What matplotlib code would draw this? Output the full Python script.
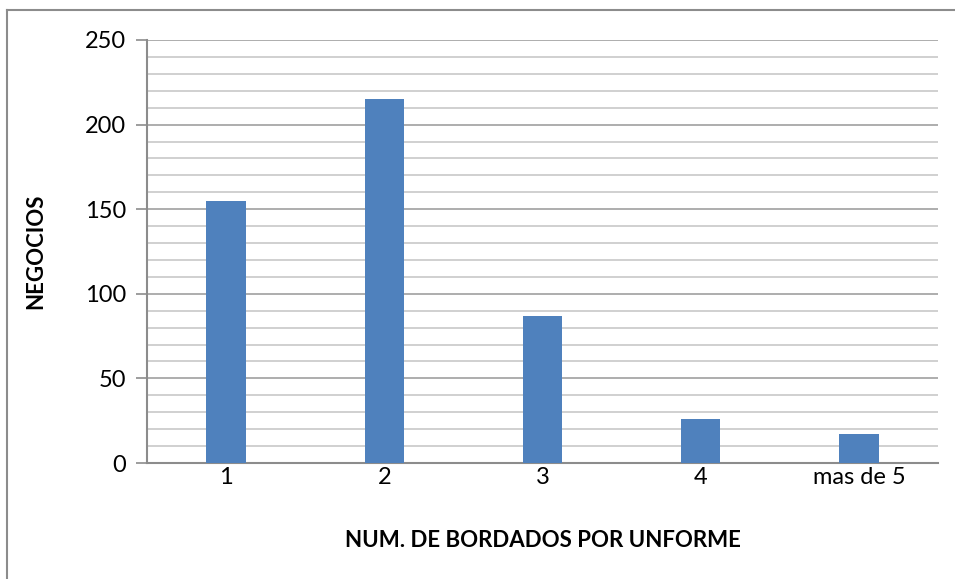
import matplotlib
matplotlib.use("Agg")
import matplotlib.pyplot as plt
from matplotlib.lines import Line2D
from matplotlib.ticker import MultipleLocator

categories = ["1", "2", "3", "4", "mas de 5"]
negocios = [155, 215, 87, 26, 17]
y_ticks = [0, 50, 100, 150, 200, 250]

plt.rcParams['font.family'] = ['Lato', 'DejaVu Sans']

W, H = 955, 579
fig = plt.figure(figsize=(W / 100, H / 100), dpi=100)
ax = fig.add_axes([147 / W, (H - 463) / H, (938 - 147) / W, (463 - 40) / H])

x = list(range(len(categories)))
ax.bar(x, negocios, width=0.25, color="#4f81bd", zorder=3)
ax.set_xlim(-0.5, len(categories) - 0.5)
ax.set_ylim(0, 250)
ax.set_yticks(y_ticks)
ax.yaxis.set_minor_locator(MultipleLocator(10))
ax.set_xticks(x)
ax.set_xticklabels(categories)

ax.grid(axis='y', which='major', color="#a0a0a0", linewidth=1.2, zorder=0)
ax.grid(axis='y', which='minor', color="#c8c8c8", linewidth=1.2, zorder=0)
ax.set_axisbelow(True)

for s in ['top', 'right']:
    ax.spines[s].set_visible(False)
for s in ['left', 'bottom']:
    ax.spines[s].set_color("#8c8c8c")
    ax.spines[s].set_linewidth(1.5)

ax.tick_params(axis='y', which='major', length=8, width=1.2, color="#8c8c8c",
               labelsize=17, pad=7)
ax.tick_params(axis='y', which='minor', length=0)
ax.tick_params(axis='x', length=0, labelsize=17, pad=3)

ax.set_xlabel("NUM. DE BORDADOS POR UNFORME", fontsize=16, fontweight='bold', labelpad=30)
ax.set_ylabel("NEGOCIOS", fontsize=16, fontweight='bold', labelpad=28)

# outer chart border (top and left visible)
fig.add_artist(Line2D([7 / W, 7 / W], [0, (H - 10) / H], transform=fig.transFigure,
                      color="#8c8c8c", linewidth=1.5))
fig.add_artist(Line2D([7 / W, 1], [(H - 10) / H, (H - 10) / H], transform=fig.transFigure,
                      color="#8c8c8c", linewidth=1.5))

fig.savefig("out.png", dpi=100)
